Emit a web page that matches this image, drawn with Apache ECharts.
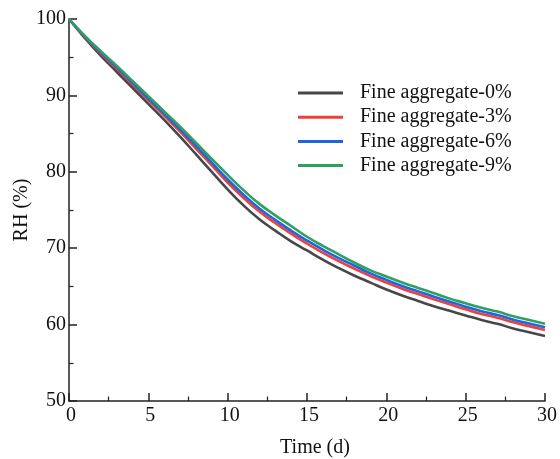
<!DOCTYPE html>
<html>
<head>
<meta charset="utf-8">
<script src="https://cdn.jsdelivr.net/npm/echarts@6/dist/echarts.min.js"></script>
<style>html,body{margin:0;padding:0;background:#fff;}#c{width:560px;height:459px;}</style>
</head>
<body>
<div id="c"></div>
<script>
const days = [0,1,2,3,4,5,6,7,8,9,10,11,12,13,14,15,16,17,18,19,20,21,22,23,24,25,26,27,28,29,30];
const seriesNames = ['Fine aggregate-0%','Fine aggregate-3%','Fine aggregate-6%','Fine aggregate-9%'];
const rh0 = [100,97.5,95.2,93.1,91.0,88.9,86.8,84.6,82.3,80.0,77.7,75.6,73.8,72.3,70.9,69.7,68.5,67.4,66.4,65.5,64.6,63.8,63.1,62.4,61.8,61.2,60.6,60.1,59.5,59.0,58.5];
const rh3 = [100,97.65,95.5,93.5,91.45,89.4,87.35,85.25,83.05,80.85,78.6,76.6,74.8,73.3,71.9,70.6,69.4,68.3,67.3,66.35,65.5,64.7,64.0,63.3,62.65,62.0,61.4,60.9,60.3,59.8,59.3];
const rh6 = [100,97.7,95.65,93.7,91.65,89.6,87.6,85.55,83.4,81.2,79.0,77.0,75.2,73.7,72.3,71.0,69.8,68.7,67.7,66.7,65.85,65.05,64.35,63.65,63.0,62.35,61.75,61.25,60.65,60.15,59.65];
const rh9 = [100,97.8,95.8,93.9,91.9,89.9,87.9,85.9,83.8,81.7,79.6,77.6,75.8,74.3,72.9,71.5,70.3,69.2,68.1,67.1,66.3,65.5,64.8,64.1,63.4,62.8,62.2,61.7,61.1,60.6,60.1];
const colors = ['#474747','#f03e3e','#1f66dc','#2ea062'];
const allData = [rh0, rh3, rh6, rh9];

const font = 'Liberation Serif';
const chart = echarts.init(document.getElementById('c'), null, {renderer:'canvas'});
const axisCommon = {
  axisLine:{show:true, lineStyle:{color:'#222', width:1.5}},
  axisTick:{show:true, inside:true, length:8, lineStyle:{color:'#222', width:1.5}},
  minorTick:{show:true, splitNumber:2, length:4.5, lineStyle:{color:'#222', width:1.2}},
  splitLine:{show:false},
  axisLabel:{color:'#111', fontFamily:font, fontSize:20},
  nameTextStyle:{color:'#111', fontFamily:font, fontSize:20},
  nameMoveOverlap:false
};
chart.setOption({
  animation:false,
  backgroundColor:'#fff',
  grid:{left:69, right:15, top:19, bottom:58, containLabel:false, outerBoundsMode:'none'},
  xAxis:Object.assign({}, axisCommon, {
    type:'value', min:0, max:30, interval:5,
    name:'Time (d)', nameLocation:'middle', nameGap:37,
    nameTextStyle:Object.assign({}, axisCommon.nameTextStyle, {padding:[0,0,0,16]}),
    axisLabel:Object.assign({}, axisCommon.axisLabel, {margin:5, padding:[0,0,0,4]})
  }),
  yAxis:Object.assign({}, axisCommon, {
    type:'value', min:50, max:100, interval:10,
    name:'RH (%)', nameLocation:'middle', nameGap:37.5, nameRotate:90,
    axisLabel:Object.assign({}, axisCommon.axisLabel, {margin:3})
  }),
  legend:{
    orient:'vertical', left:298, top:83, padding:0, icon:'rect', itemWidth:45, itemHeight:3,
    itemGap:4.2,
    textStyle:{fontFamily:font, fontSize:20, color:'#111', lineHeight:20, padding:[0,0,0,12]},
    data:seriesNames
  },
  series: seriesNames.map((n,i)=>({
    name:n, type:'line', smooth:true, showSymbol:false, symbol:'none',
    data: days.map((d,j)=>[d, allData[i][j]]),
    lineStyle:{color:colors[i], width:2.6},
    itemStyle:{color:colors[i]},
    z: 2+i
  }))
});
</script>
</body>
</html>
